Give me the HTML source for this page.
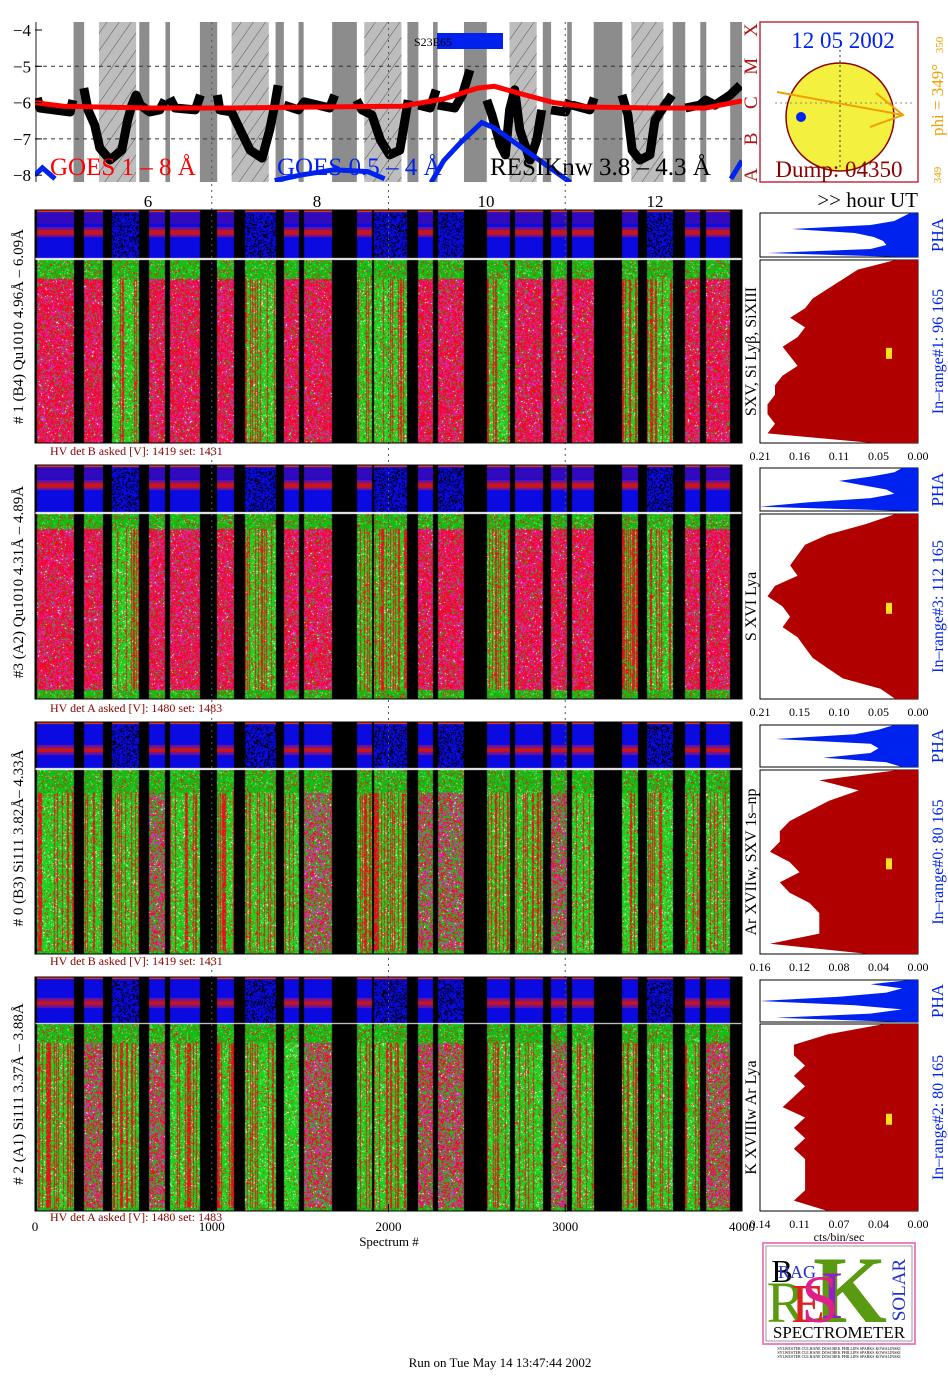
<!DOCTYPE html>
<html><head><meta charset="utf-8">
<style>
html,body{margin:0;padding:0;background:#fff;}
#wrap{position:relative;width:948px;height:1380px;overflow:hidden;}
#cv,#sv{position:absolute;left:0;top:0;}
text{font-family:"Liberation Serif",serif;}
</style></head>
<body>
<div id="wrap">
<canvas id="cv" width="948" height="1380"></canvas>
<svg id="sv" width="948" height="1380" xmlns="http://www.w3.org/2000/svg"></svg>
</div>
<script>
// ---------- data ----------
const segStart=[11,278,434,647,764,1031,1188,1408,1520,1821,1920,2169,2278,2556,2717,2920,3037,3323,3465,3679,3798];
const segEnd=[218,382,590,738,933,1128,1361,1491,1681,1907,2107,2252,2427,2686,2873,3011,3161,3414,3608,3764,3933];
const panelKinds=["rrgrrrgrrggrrgrrrggrr","rrgrrrgrrggrrgrrrggrr","gggrggggrggrrggrggggg","grgrggggrggrrggrggggr"];
const dottedSegs=[2,6,10,12,18];
const hatchStart=[5.42,6.99,8.56,10.28,11.72];
const hatchEnd=[5.86,7.43,9.0,10.6,12.1];
const goesLongT=[4.66,5.0,6,7,8,9,9.5,9.9,10.1,10.4,10.8,11.2,12,12.6,13.03];
const goesLongV=[-6.0,-6.1,-6.15,-6.15,-6.12,-6.1,-5.9,-5.6,-5.55,-5.75,-6.0,-6.12,-6.15,-6.15,-5.95];
const goesShortT=[4.66,4.75,4.9,NaN,7.5,7.8,8.2,8.6,8.8,NaN,9.35,9.5,9.7,9.95,10.1,10.4,10.7,11.0,NaN,12.9,13.03];
const goesShortV=[-8.0,-7.8,-8.1,NaN,-8.15,-8.0,-7.85,-7.9,-8.1,NaN,-8.2,-7.6,-7.1,-6.55,-6.7,-7.2,-7.7,-8.2,NaN,-8.1,-7.6];
const resikT=[4.69,4.72,5.08,5.11,NaN,5.24,5.29,5.37,5.43,5.55,5.69,5.76,5.81,5.86,5.91,6.02,6.14,6.20,NaN,6.26,6.32,6.56,6.62,NaN,6.82,6.85,6.99,7.09,7.21,7.35,7.44,7.50,7.54,NaN,7.61,7.78,7.85,8.15,8.21,NaN,8.47,8.53,8.65,8.75,8.86,8.98,9.04,9.08,NaN,9.20,9.34,9.41,NaN,9.43,9.63,9.72,9.81,NaN,10.01,10.07,10.17,10.23,10.28,10.34,10.40,10.52,10.60,10.66,NaN,10.77,10.94,10.99,NaN,11.02,11.23,11.28,NaN,11.61,11.68,11.73,11.82,11.94,12.00,12.12,12.20,NaN,12.36,12.53,12.60,12.71,12.89,13.01];
const resikV=[-5.87,-6.15,-6.26,-5.93,NaN,-5.60,-6.20,-6.62,-7.25,-7.58,-7.31,-6.48,-6.07,-5.79,-6.07,-6.26,-6.20,-5.93,NaN,-5.87,-6.15,-6.20,-5.79,NaN,-5.79,-6.20,-6.26,-6.75,-7.31,-7.53,-6.75,-6.07,-5.52,NaN,-6.07,-6.20,-5.98,-6.15,-5.79,NaN,-5.93,-6.20,-6.34,-7.03,-7.44,-7.31,-6.48,-5.93,NaN,-6.07,-6.15,-5.65,NaN,-6.07,-6.15,-5.79,-5.10,NaN,-5.93,-6.34,-7.17,-7.44,-6.20,-5.65,-6.75,-7.58,-7.03,-6.20,NaN,-6.20,-6.26,-5.93,NaN,-6.07,-6.20,-5.87,NaN,-5.79,-6.34,-7.31,-7.58,-7.44,-6.48,-6.07,-5.79,NaN,-6.15,-6.07,-5.93,-6.07,-5.79,-5.52];
const hourTicks=[6,8,10,12];
const logTicks=[-4,-5,-6,-7,-8];
const specTicks=[0,1000,2000,3000,4000];
const redProf1=[0.03,0.08,0.10,0.12,0.14,0.15,0.17,0.15,0.16,0.18,0.17,0.16,0.18,0.19,0.19,0.20,0.20,0.19,0.20,0.06];
const redProf2=[0.03,0.07,0.12,0.15,0.16,0.17,0.16,0.19,0.20,0.18,0.17,0.18,0.16,0.15,0.14,0.12,0.10,0.05,0.03];
const redProf3=[0.02,0.10,0.06,0.09,0.11,0.13,0.14,0.14,0.15,0.13,0.12,0.14,0.13,0.11,0.10,0.10,0.10,0.15,0.05];
const redProf4=[0.03,0.08,0.11,0.11,0.10,0.11,0.10,0.11,0.12,0.10,0.11,0.10,0.11,0.10,0.10,0.10,0.10,0.11,0.08];
const redMax=[0.21,0.21,0.16,0.14];
const histTicks=[["0.21","0.16","0.11","0.05","0.00"],["0.21","0.15","0.10","0.05","0.00"],["0.16","0.12","0.08","0.04","0.00"],["0.14","0.11","0.07","0.04","0.00"]];
const phaProf1=[0.05,0.1,0.15,0.3,0.8,0.4,0.28,0.22,0.2,0.3,0.95,0.1];
const phaProf2=[0.1,0.15,0.3,0.5,0.35,0.2,0.15,0.3,0.7,1.0,0.05];
const phaProf3=[0.15,0.25,0.4,0.9,0.3,0.25,0.3,0.6,0.2,0.1];
const phaProf4=[0.05,0.3,0.1,0.2,0.5,1.0,0.4,0.1,0.3,0.9,0.1];

// ---------- geometry ----------
const X0=35,X1=742;
const panels=[{sy:210,sh:48,my:260,mh:183,hv:451,gtop:0.1,gbot:0.0,gmix:0.08,band:0.45},
{sy:465,sh:47,my:514,mh:185,hv:708,gtop:0.08,gbot:0.05,gmix:0.08,band:0.42},
{sy:722,sh:46,my:770,mh:184,hv:961,gtop:0.12,gbot:0.02,gmix:0.4,band:0.6},
{sy:977,sh:46,my:1024,mh:187,hv:1217,gtop:0.1,gbot:0.02,gmix:0.35,band:0.55}];
function sx(s){return X0+s/4000*(X1-X0);}
function hx(h){return 35+(h-4.663)*84.5;}
function ly(v){return 30+(-4-v)*36.3;}

// ---------- canvas textures ----------
const cv=document.getElementById('cv');const ctx=cv.getContext('2d');
function hs(x,y){let n=Math.imul(x,374761393)+Math.imul(y,668265263);n=Math.imul(n^(n>>>13),1274126177);n=n^(n>>>16);return (n>>>0)/4294967296;}
const img=ctx.createImageData(948,1380);const D=img.data;
function put(x,y,r,g,b){const i=(y*948+x)*4;D[i]=r;D[i+1]=g;D[i+2]=b;D[i+3]=255;}
panels.forEach((p,pi)=>{
  for(let y=p.sy;y<p.my+p.mh;y++)for(let x=X0;x<X1;x++){ if(y>=p.sy+p.sh&&y<p.my){put(x,y,255,255,255);}else put(x,y,0,0,0);}
  segStart.forEach((s0,si)=>{
    const xa=Math.round(sx(s0)),xb=Math.round(sx(segEnd[si]));
    const kind=panelKinds[pi][si];const dotted=dottedSegs.includes(si);
    for(let x=xa;x<xb;x++){
      const colR=hs(x,777+pi)<0.3;
      for(let y=p.sy;y<p.sy+p.sh;y++){
        const f=(y-p.sy)/p.sh;let r=10,g=10,b=225;
        if(f<0.04){r=230;g=60;b=20;}
        else if(!dotted){const d=Math.abs(f-p.band);
          if(d<0.05){r=200;g=20;b=30;} else if(d<0.11){r=110;g=20;b=150;} else if(f<0.28&&pi<2){r=50;g=10;b=190;}}
        if(dotted&&f>0.05&&hs(x,y)<0.3){r=0;g=0;b=0;}
        put(x,y,r,g,b);
      }
      for(let y=p.my;y<p.my+p.mh;y++){
        const f=(y-p.my)/p.mh;const h=hs(x,y);let c;
        if(f<p.gtop||f>1-p.gbot){c=h<0.8?[20,190,20]:(h<0.93?[240,20,30]:[120,240,120]);}
        else if(kind==='g'){ if(colR) c=h<0.85?[240,10,30]:[20,200,20]; else c=h<0.8?[30,210,30]:(h<0.9?[240,20,30]:(h<0.97?[120,250,120]:[255,255,255]));}
        else { if(h<p.gmix) c=[20,200,20]; else if(h<p.gmix+0.25) c=[220,40,210]; else if(h<0.985) c=[240,10,40]; else c=[255,255,255];}
        put(x,y,c[0],c[1],c[2]);
      }
    }
  });
});
ctx.putImageData(img,0,0);

// ---------- SVG ----------
const NS='http://www.w3.org/2000/svg';const sv=document.getElementById('sv');
function el(t,a,parent){const e=document.createElementNS(NS,t);for(const k in a)e.setAttribute(k,a[k]);(parent||sv).appendChild(e);return e;}
function txt(s,a,parent){const e=el('text',a,parent);e.textContent=s;return e;}

const defs=el('defs',{});
const topG=el('g',{});


el('rect',{x:35,y:22,width:707,height:160,fill:'#8c8c8c'},topG);
segStart.forEach((s0,si)=>{
  const r=el('rect',{x:sx(s0),y:22,width:sx(segEnd[si])-sx(s0),height:160,fill:'#fff'},topG);
  
  
});
const pat=el('pattern',{id:'hatch',width:10,height:10,patternUnits:'userSpaceOnUse',patternTransform:'rotate(35)'},defs);
el('rect',{width:10,height:10,fill:'#bdbdbd'},pat);
el('line',{x1:0,y1:0,x2:0,y2:10,stroke:'#555','stroke-width':1},pat);
hatchStart.forEach((h0,i)=>{
  const r=el('rect',{x:hx(h0),y:22,width:hx(hatchEnd[i])-hx(h0),height:160,fill:'url(#hatch)'},topG);
  
  
});
[-5,-7].forEach(v=>el('line',{x1:35,x2:742,y1:ly(v),y2:ly(v),stroke:'#333','stroke-dasharray':'4,4','stroke-width':1},topG));
[1000,2000,3000].forEach(s=>el('line',{x1:sx(s),x2:sx(s),y1:22,y2:1212,stroke:'#555','stroke-dasharray':'2,4','stroke-width':1}));
const clip=el('clipPath',{id:'topclip'},defs);el('rect',{x:35,y:22,width:707,height:160},clip);
function pathFrom(T,V){let d='',pen=false;T.forEach((t,i)=>{if(isNaN(t)||isNaN(V[i])){pen=false;return;}d+=(pen?'L':'M')+hx(t).toFixed(1)+','+ly(V[i]).toFixed(1);pen=true;});return d;}
const lines=el('g',{'clip-path':'url(#topclip)'},topG);
const rl=el('path',{d:pathFrom(resikT,resikV),fill:'none',stroke:'#000','stroke-width':9,'stroke-linejoin':'round'},lines);


const gl=el('path',{d:pathFrom(goesLongT,goesLongV),fill:'none',stroke:'#f00','stroke-width':5},lines);


const gs=el('path',{d:pathFrom(goesShortT,goesShortV),fill:'none',stroke:'#0022ee','stroke-width':5},lines);


const fb=el('rect',{x:437,y:33,width:66,height:16,fill:'#0022ee'},topG);


txt('S23E65',{x:414,y:46,'font-size':12,fill:'#000'},topG);
logTicks.forEach(v=>{const t=txt(String(v).replace('-','−'),{x:31,y:ly(v)+6,'font-size':17,'text-anchor':'end'});
  
  
  el('line',{x1:35,x2:42,y1:ly(v),y2:ly(v),stroke:'#000'});});
txt('GOES 1 – 8 Å',{x:50,y:175,'font-size':25,fill:'#f00'},topG);
txt('GOES 0.5 – 4 Å',{x:277,y:175,'font-size':25,fill:'#0022ee'},topG);
txt('RESIKnw 3.8 – 4.3 Å',{x:490,y:175,'font-size':25,fill:'#000'},topG);
['A','B','C','M','X'].forEach((c,i)=>{txt(c,{transform:`translate(757,${ly(-8+i)}) rotate(-90)`,'font-size':19,fill:'#b01010','text-anchor':'middle'});});
hourTicks.forEach(h=>{const t=txt(String(h),{x:hx(h),y:207,'font-size':17,'text-anchor':'middle'});
  
  });
txt('>> hour UT',{x:918,y:207,'font-size':21,'text-anchor':'end'});

// sun box
el('rect',{x:760,y:22,width:158,height:160,fill:'#fff',stroke:'#c03040','stroke-width':1.5});
el('circle',{cx:840,cy:117,r:54,fill:'#f4f040',stroke:'#8b0000','stroke-width':1.5});
el('line',{x1:840,x2:840,y1:50,y2:170,stroke:'#333','stroke-dasharray':'2,3'});
el('line',{x1:775,x2:915,y1:103,y2:103,stroke:'#888','stroke-dasharray':'2,3'});
el('circle',{cx:801,cy:117,r:5,fill:'#0022ee'});
el('path',{d:'M777,92 L903,115 M876,93 L903,115 L870,127',stroke:'#f0a000','stroke-width':2,fill:'none'});
txt('12 05 2002',{x:843,y:48,'font-size':23,fill:'#0022ee','text-anchor':'middle'});
txt('Dump: 04350',{x:839,y:177,'font-size':23,fill:'#8b0000','text-anchor':'middle'});
txt('phi = 349°',{transform:'translate(943,100) rotate(-90)','font-size':17,fill:'#f0a000','text-anchor':'middle'});
txt('350',{transform:'translate(943,45) rotate(-90)','font-size':11,fill:'#f0a000','text-anchor':'middle'});
txt('349',{transform:'translate(941,175) rotate(-90)','font-size':11,fill:'#f0a000','text-anchor':'middle'});

// panels
const leftLabels=['# 1 (B4) Qu1010 4.96Å – 6.09Å','#3 (A2) Qu1010  4.31Å – 4.89Å','# 0 (B3) Si111  3.82Å– 4.33Å','# 2 (A1) Si111  3.37Å – 3.88Å'];
const lineLabels=['SXV, Si Lyβ, SiXIII','S XVI Lya','Ar XVIIw,  SXV 1s–np','K XVIIIw  Ar Lya'];
const inRange=['In–range#1:  96 165','In–range#3:  112 165','In–range#0:  80 165','In–range#2:  80 165'];
const hvText=['HV det B asked [V]:  1419 set:  1431','HV det A asked [V]:  1480 set:  1483','HV det B asked [V]:  1419 set:  1431','HV det A asked [V]:  1480 set:  1483'];
const redProfs=[redProf1,redProf2,redProf3,redProf4];const phaProfs=[phaProf1,phaProf2,phaProf3,phaProf4];
const HX0=760,HX1=918;
panels.forEach((p,pi)=>{
  const g=el('g',{});
  
  
  el('rect',{x:35,y:p.sy,width:707,height:p.my+p.mh-p.sy,fill:'none',stroke:'#000','stroke-width':1},g);
  txt(leftLabels[pi],{transform:`translate(23,${p.sy+(p.my+p.mh-p.sy)/2}) rotate(-90)`,'font-size':15,'text-anchor':'middle','xml:space':'preserve'},g);
  txt(hvText[pi],{x:50,y:p.hv+4,'font-size':12,fill:'#8b0000'},g);
  const pb={y:p.sy+3,h:p.sh-4};
  el('rect',{x:HX0,y:pb.y,width:HX1-HX0,height:pb.h,fill:'#fff',stroke:'#000'},g);
  const pp=phaProfs[pi];let d=`M${HX1},${pb.y}`;
  pp.forEach((v,i)=>{d+=`L${(HX1-v*(HX1-HX0)).toFixed(1)},${(pb.y+i/(pp.length-1)*pb.h).toFixed(1)}`;});
  d+=`L${HX1},${pb.y+pb.h}Z`;
  const ph=el('path',{d:d,fill:'#0022ee'},g);
  
  
  txt('PHA',{transform:`translate(943,${pb.y+pb.h/2}) rotate(-90)`,'font-size':17,fill:'#0022ee','text-anchor':'middle'},g);
  const rb={y:p.my,h:p.mh};
  el('rect',{x:HX0,y:rb.y,width:HX1-HX0,height:rb.h,fill:'#fff',stroke:'#000'},g);
  const rp=redProfs[pi];d=`M${HX1},${rb.y}`;
  rp.forEach((v,i)=>{d+=`L${(HX1-v/redMax[pi]*(HX1-HX0)).toFixed(1)},${(rb.y+i/(rp.length-1)*rb.h).toFixed(1)}`;});
  d+=`L${HX1},${rb.y+rb.h}Z`;
  const rh=el('path',{d:d,fill:'#b00000'},g);
  
  
  el('rect',{x:886,y:rb.y+rb.h*0.48,width:6,height:11,fill:'#f8e020'},g);
  histTicks[pi].forEach((s,i)=>{txt(s,{x:HX0+i*(HX1-HX0)/4,y:rb.y+rb.h+17,'font-size':12,'text-anchor':'middle'},g);});
  txt(lineLabels[pi],{transform:`translate(756,${rb.y+rb.h/2}) rotate(-90)`,'font-size':16,'text-anchor':'middle'},g);
  txt(inRange[pi],{transform:`translate(943,${rb.y+rb.h/2}) rotate(-90)`,'font-size':16,fill:'#0022ee','text-anchor':'middle'},g);
});
specTicks.forEach(s=>{el('line',{x1:sx(s),x2:sx(s),y1:1211,y2:1204,stroke:'#000'});
  const t=txt(String(s),{x:sx(s),y:1231,'font-size':13,'text-anchor':'middle'});
  
  });
txt('Spectrum #',{x:389,y:1246,'font-size':13,'text-anchor':'middle'});
txt('cts/bin/sec',{x:839,y:1241,'font-size':12,'text-anchor':'middle'});
txt('Run on Tue May 14 13:47:44 2002',{x:500,y:1367,'font-size':13,'text-anchor':'middle'});

// logo
const lg=el('g',{});


el('rect',{x:763,y:1243,width:152,height:101,fill:'#fff',stroke:'#f080c0','stroke-width':2},lg);
el('rect',{x:766,y:1246,width:146,height:95,fill:'none',stroke:'#999','stroke-width':1},lg);
txt('K',{x:850,y:1322,'font-size':95,fill:'#5a9a10','text-anchor':'middle','font-weight':'bold'},lg);
txt('R',{x:786,y:1322,'font-size':58,fill:'#5a9a10','text-anchor':'middle'},lg);
txt('E',{x:808,y:1322,'font-size':55,fill:'#e02020','text-anchor':'middle'},lg);
txt('I',{x:832,y:1318,'font-size':68,fill:'#9020c0','text-anchor':'middle'},lg);
txt('S',{x:820,y:1322,'font-size':68,fill:'#e0208a','text-anchor':'middle'},lg);
txt('B',{x:782,y:1282,'font-size':32,fill:'#000','text-anchor':'middle'},lg);
txt('RAG',{x:797,y:1278,'font-size':18,fill:'#2030c0','text-anchor':'middle'},lg);
txt('SOLAR',{transform:'translate(905,1290) rotate(-90)','font-size':19,fill:'#2030d0','text-anchor':'middle'},lg);
txt('SPECTROMETER',{x:839,y:1338,'font-size':17,fill:'#000','text-anchor':'middle'},lg);
for(let i=0;i<3;i++){txt('SYLWESTER  CULHANE  DOSCHEK  PHILLIPS  SPARKS  KOWALINSKI',{x:839,y:1350+i*4,'font-size':4,'text-anchor':'middle'},lg);}
</script>
</body></html>
